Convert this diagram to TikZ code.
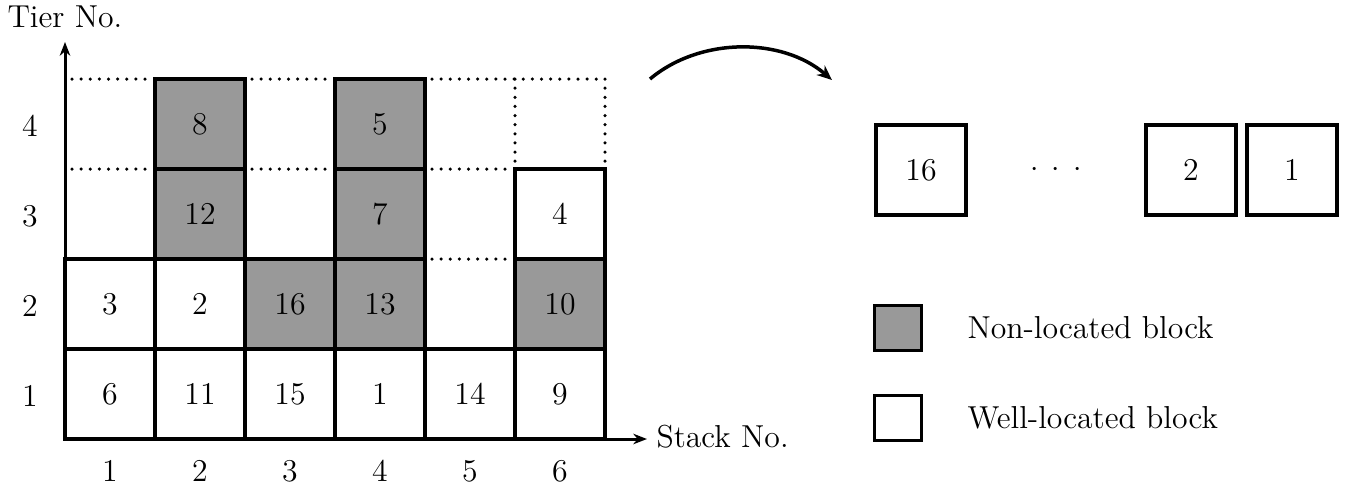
\documentclass[tikz,border=0pt]{standalone}
\usetikzlibrary{arrows.meta}
\begin{document}
\begin{tikzpicture}[x=0.4pt,y=-0.4pt,
  every node/.style={font=\fontsize{12.7}{15}\selectfont},
  blk/.style={draw,line width=1.4pt,minimum width=36pt,minimum height=36pt,inner sep=0pt},
  nonloc/.style={blk,fill=black!40},
  wellloc/.style={blk,fill=white},
  legbox/.style={draw,line width=1.5pt,minimum width=18.8pt,minimum height=18pt,inner sep=0pt},
  dotline/.style={line width=1.4pt,dash pattern=on 0pt off 3.65pt,line cap=round},
  axis/.style={line width=1.2pt,-{Stealth[length=5.5pt,width=4.2pt]}},
  curved/.style={line width=1.4pt,-{Stealth[length=6pt,width=5pt]}}]
\useasboundingbox (0,0) rectangle (1356,496);
% dotted guide lines
\draw[dotline] (72,79) -- (150,79);
\draw[dotline] (252,79) -- (330,79);
\draw[dotline] (432,79) -- (605,79);
\draw[dotline] (72,169) -- (150,169);
\draw[dotline] (252,169) -- (330,169);
\draw[dotline] (432,169) -- (510,169);
\draw[dotline] (432,259) -- (510,259);
\draw[dotline] (515,79) -- (515,165);
\draw[dotline] (605,79) -- (605,165);
% cells
\foreach \c/\r/\t in {1/1/6,2/1/11,3/1/15,4/1/1,5/1/14,6/1/9,1/2/3,2/2/2,6/3/4}
  \node[wellloc] (c\c r\r) at ({20+90*\c},{484-90*\r}) {\t};
\foreach \c/\r/\t in {2/3/12,2/4/8,3/2/16,4/2/13,4/3/7,4/4/5,6/2/10}
  \node[nonloc] (c\c r\r) at ({20+90*\c},{484-90*\r}) {\t};
% axes
\coordinate (o) at (65,439);
\coordinate (ytip) at (65,42);
\coordinate (xtip) at (647,439);
\draw[axis] (o) -- (ytip);
\draw[axis] (o) -- (xtip);
\node[anchor=base west,inner sep=0pt] (tierlab) at (7,27) {Tier No.};
\node[anchor=base west,inner sep=0pt] (stacklab) at (656,447) {Stack No.};
\foreach \r in {1,2,3,4}
  \node (tn\r) at (30,{486-90*\r}) {\r};
\foreach \c in {1,...,6}
  \node (sn\c) at ({20+90*\c},471) {\c};
% curved arrow
\coordinate (a1) at (650,79);
\coordinate (a2) at (832,80);
\draw[curved] (a1) .. controls (700,37) and (782,37) .. (a2);
% sequence boxes
\node[wellloc] (s16) at (921,170) {16};
\node (sdots) at (1056,170) {$\cdot$\hspace{5.4pt}$\cdot$\hspace{5.4pt}$\cdot$};
\node[wellloc] (s2) at (1191,170) {2};
\node[wellloc] (s1) at (1292,170) {1};
% legend
\node[legbox,fill=black!40] (lg1) at (898,328) {};
\node[legbox,fill=white] (lg2) at (898,418) {};
\node[anchor=west,inner sep=0pt] (lt1) at (967,328) {Non-located block};
\node[anchor=west,inner sep=0pt] (lt2) at (967,418) {Well-located block};
\end{tikzpicture}
\end{document}
